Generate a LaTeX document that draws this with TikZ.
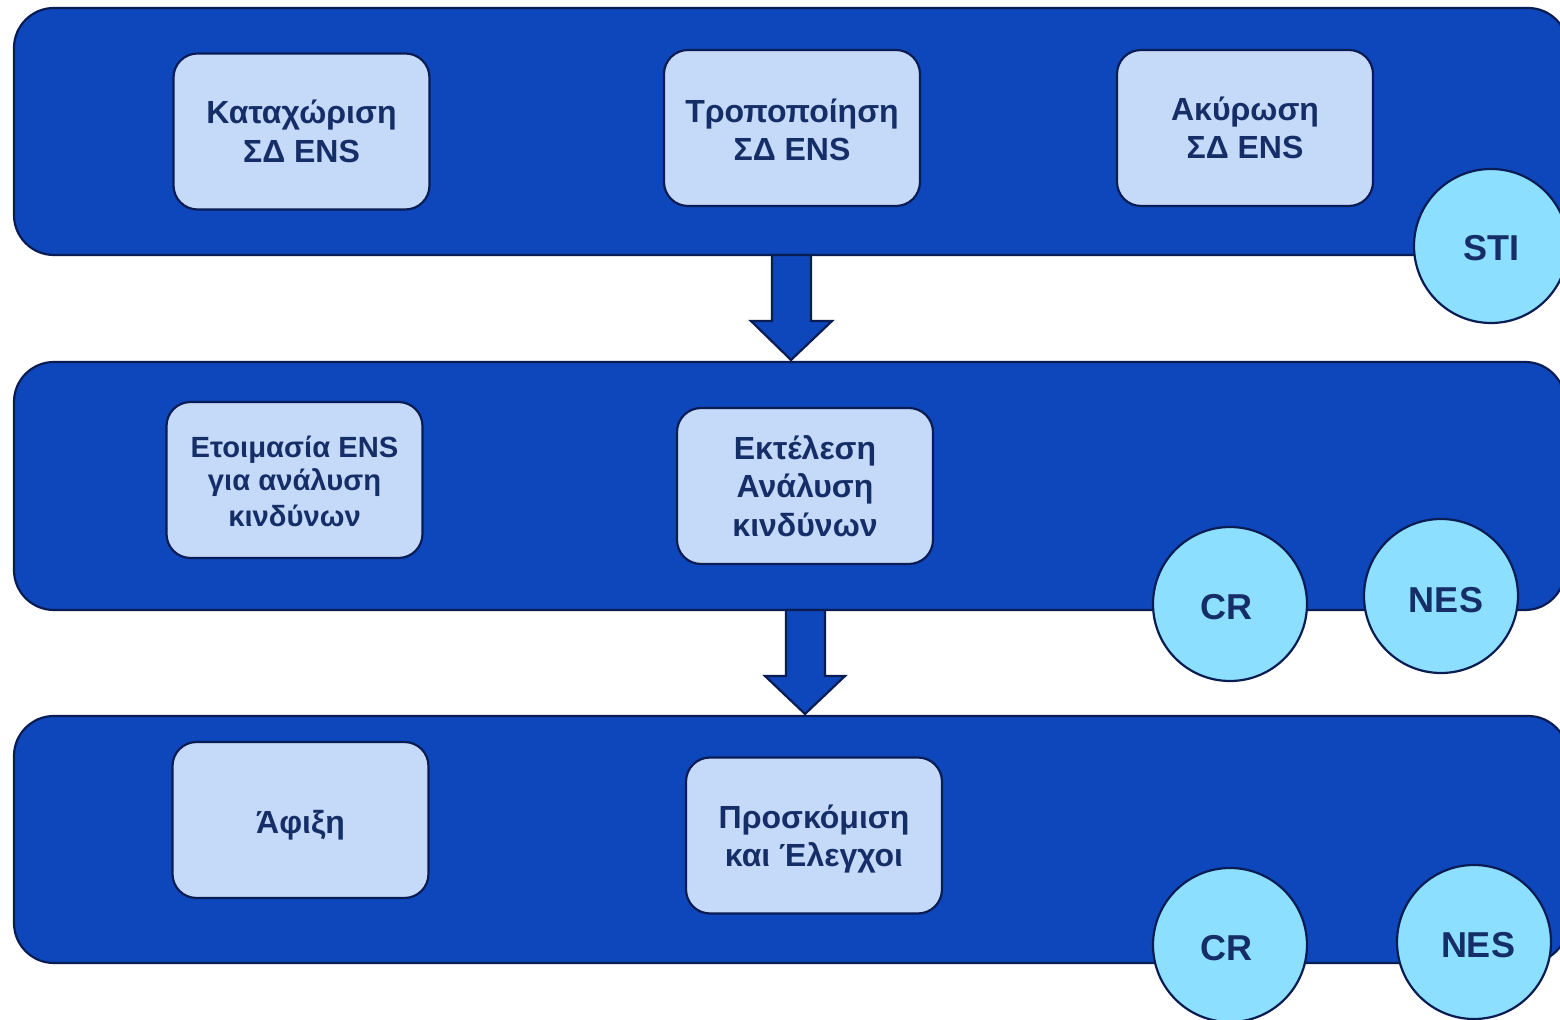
\documentclass[tikz,border=0pt]{standalone}
\usepackage{fontspec}
\setmainfont{Liberation Sans}
\newcommand{\dn}[2]{\raisebox{-#1}[\height][\depth]{#2}}
\begin{document}
\begin{tikzpicture}[x=0.5pt,y=-0.5pt]
\definecolor{bandblue}{RGB}{13,71,187}
\definecolor{edge}{RGB}{10,28,84}
\definecolor{boxfill}{RGB}{197,217,248}
\definecolor{txt}{RGB}{21,46,104}
\definecolor{circfill}{RGB}{140,223,255}
\tikzset{
  band/.style={draw=edge, line width=1.1pt, fill=bandblue, rounded corners=20pt, inner sep=0pt},
  task/.style={draw=edge, line width=1.1pt, fill=boxfill, rounded corners=12pt, inner sep=0pt,
    minimum width=128pt, minimum height=78pt, align=center, text=txt,
    font=\bfseries\fontsize{16}{19.2}\selectfont},
  smalltask/.style={task, font=\bfseries\fontsize{14.6}{18}\selectfont},
  sys/.style={circle, draw=edge, line width=1.1pt, fill=circfill, inner sep=0pt,
    minimum size=77pt, text=txt, font=\bfseries\fontsize{18}{22}\selectfont},
  blockarrow/.style={draw=edge, line width=1.1pt, fill=bandblue, line join=miter}
}
\clip (0,0) rectangle (1560,1020);
\fill[white] (0,0) rectangle (1560,1020);
% bands
\node[band, minimum width=777pt, minimum height=123.5pt] (b1) at (791,131.5) {};
\node[band, minimum width=775.5pt, minimum height=124pt] (b2) at (789.5,486) {};
\node[band, minimum width=777pt, minimum height=123.5pt] (b3) at (791,839.5) {};
% arrows
\coordinate (a1tip) at (791,360);
\draw[blockarrow] (772,255) -- (811,255) -- (811,321) -- (832,321) -- (a1tip) -- (751,321) -- (772,321) -- cycle;
\coordinate (a2tip) at (805,714);
\draw[blockarrow] (786,610) -- (825,610) -- (825,676) -- (845,676) -- (a2tip) -- (765,676) -- (786,676) -- cycle;
% tasks row 1
\node[task] (t11) at (301.5,131.5) {Καταχώριση\\ΣΔ ENS};
\node[task] (t12) at (792,128) {\dn{1pt}{Τροποποίηση}\\\dn{1pt}{ΣΔ ENS}};
\node[task] (t13) at (1245,128) {Ακύρωση\\ΣΔ ENS};
% row 2
\node[smalltask] (t21) at (294.5,480) {\dn{1.5pt}{Ετοιμασία ENS}\\για ανάλυση\\κινδύνων};
\node[task] (t22) at (805,486) {Εκτέλεση\\Ανάλυση\\κινδύνων};
% row 3
\node[task] (t31) at (300.5,820) {\dn{2.5pt}{Άφιξη}};
\node[task] (t32) at (814,835.5) {\dn{2pt}{Προσκόμιση}\\\dn{1.5pt}{και Έλεγχοι}};
% systems
\node[sys] (sti) at (1491,246) {\dn{1pt}{STI}};
\node[sys] (cr2) at (1230,604) {\hspace*{-4pt}\dn{1.5pt}{CR}};
\node[sys] (nes2) at (1441,596) {\hspace*{5pt}\dn{2pt}{NES}};
\node[sys] (cr3) at (1230,945) {\hspace*{-4pt}\dn{1.5pt}{CR}};
\node[sys] (nes3) at (1474,942) {\hspace*{4pt}\dn{1.5pt}{NES}};
\end{tikzpicture}
\end{document}
